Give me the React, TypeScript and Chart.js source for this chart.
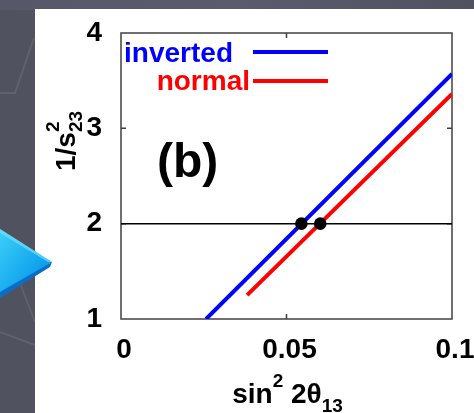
import { useEffect, useRef } from "react";
import { Chart, registerables } from "chart.js";

Chart.register(...registerables);

// Axis ticks
const xTickValues = [0, 0.05, 0.1];
const xTickLabels = ["0", "0.05", "0.1"];
const yTickValues = [1, 2, 3, 4];
const yTickLabels = ["1", "2", "3", "4"];

// Series: straight lines given by their end points
const seriesNames = ["inverted", "normal"];
const invertedX = [0.0257, 0.1];
const invertedY = [1, 3.57];
const normalX = [0.0381, 0.1];
const normalY = [1.25, 3.36];

// Crossing points with the reference level
const referenceLevel = 2;
const crossingX = [0.0545, 0.0602];
const crossingY = [2, 2];

const panelTag = "(b)";

const FONT = "'Liberation Sans', Arial, Helvetica, sans-serif";

type Part = { t: string; size: number; dy: number; stackWithPrev?: boolean };

function drawRich(ctx: CanvasRenderingContext2D, parts: Part[], startX: number, baseY: number) {
  let x = startX;
  let prevStart = startX;
  let prevWidth = 0;
  for (const p of parts) {
    ctx.font = `bold ${p.size}px ${FONT}`;
    const w = ctx.measureText(p.t).width;
    if (p.stackWithPrev) {
      ctx.fillText(p.t, prevStart, baseY + p.dy);
      x = prevStart + Math.max(prevWidth, w);
    } else {
      ctx.fillText(p.t, x, baseY + p.dy);
      prevStart = x;
      prevWidth = w;
      x += w;
    }
  }
}

function richWidth(ctx: CanvasRenderingContext2D, parts: Part[]) {
  let total = 0;
  let prevWidth = 0;
  for (const p of parts) {
    ctx.font = `bold ${p.size}px ${FONT}`;
    const w = ctx.measureText(p.t).width;
    if (p.stackWithPrev) {
      total += Math.max(prevWidth, w) - prevWidth;
    } else {
      total += w;
      prevWidth = w;
    }
  }
  return total;
}

const framePlugin = {
  id: "frameAndTicks",
  beforeDatasetsDraw(chart: any) {
    const { ctx, chartArea: a, scales } = chart;
    ctx.save();
    ctx.strokeStyle = "#404040";
    ctx.lineWidth = 1.5;
    ctx.strokeRect(a.left, a.top, a.right - a.left, a.bottom - a.top);
    const tl = 5;
    ctx.beginPath();
    for (const v of xTickValues) {
      if (v <= scales.x.min || v >= scales.x.max) continue;
      const px = scales.x.getPixelForValue(v);
      ctx.moveTo(px, a.bottom);
      ctx.lineTo(px, a.bottom - tl);
      ctx.moveTo(px, a.top);
      ctx.lineTo(px, a.top + tl);
    }
    for (const v of yTickValues) {
      if (v <= scales.y.min || v >= scales.y.max) continue;
      const py = scales.y.getPixelForValue(v);
      ctx.moveTo(a.left, py);
      ctx.lineTo(a.left + tl, py);
      ctx.moveTo(a.right, py);
      ctx.lineTo(a.right - tl, py);
    }
    ctx.stroke();
    ctx.restore();
  },
};

const annotationPlugin = {
  id: "titlesAndKey",
  afterDraw(chart: any) {
    const { ctx, chartArea: a } = chart;
    ctx.save();
    ctx.fillStyle = "#000";
    ctx.textBaseline = "alphabetic";
    ctx.textAlign = "left";

    // x-axis title: sin^2 2θ_13
    const xParts: Part[] = [
      { t: "sin", size: 28, dy: 0 },
      { t: "2", size: 19, dy: -16 },
      { t: " 2θ", size: 28, dy: 0 },
      { t: "13", size: 19, dy: 9 },
    ];
    const xw = richWidth(ctx, xParts);
    const xc = (a.left + a.right) / 2 + 1;
    drawRich(ctx, xParts, xc - xw / 2, 403);

    // y-axis title: 1/s^2_23 (rotated)
    const yParts: Part[] = [
      { t: "1/s", size: 28, dy: 0 },
      { t: "2", size: 19, dy: -16 },
      { t: "23", size: 19, dy: 7, stackWithPrev: true },
    ];
    const yw = richWidth(ctx, yParts);
    ctx.save();
    ctx.translate(75, 141);
    ctx.rotate(-Math.PI / 2);
    drawRich(ctx, yParts, -yw / 2, 0);
    ctx.restore();

    // panel tag
    ctx.font = `bold 48px ${FONT}`;
    ctx.fillText(panelTag, 157, 177);

    // key
    const colors = ["#0000ff", "#ff0000"];
    const textRight = [233, 250];
    const textBase = [62, 90];
    const lineY = [52, 81];
    ctx.font = `bold 28px ${FONT}`;
    ctx.textAlign = "right";
    ctx.lineWidth = 4;
    for (let i = 0; i < seriesNames.length; i++) {
      ctx.fillStyle = colors[i];
      ctx.fillText(seriesNames[i], textRight[i], textBase[i]);
      ctx.strokeStyle = colors[i];
      ctx.beginPath();
      ctx.moveTo(253, lineY[i]);
      ctx.lineTo(328, lineY[i]);
      ctx.stroke();
    }
    ctx.restore();
  },
};

export default function App() {
  const canvasRef = useRef<HTMLCanvasElement | null>(null);

  useEffect(() => {
    const canvas = canvasRef.current;
    if (!canvas) return;
    const toPoints = (xs: number[], ys: number[]) => xs.map((x, i) => ({ x, y: ys[i] }));
    const [xMin, xMax] = [xTickValues[0], xTickValues[xTickValues.length - 1]];
    const [yMin, yMax] = [yTickValues[0], yTickValues[yTickValues.length - 1]];

    const chart = new Chart(canvas, {
      type: "scatter",
      data: {
        datasets: [
          {
            label: "crossings",
            data: toPoints(crossingX, crossingY),
            pointRadius: 6.3,
            pointBackgroundColor: "#000",
            pointBorderColor: "#000",
            pointBorderWidth: 0,
            showLine: false,
            order: 0,
          },
          {
            label: seriesNames[0],
            data: toPoints(invertedX, invertedY),
            showLine: true,
            borderColor: "#0000ff",
            borderWidth: 4,
            pointRadius: 0,
            order: 1,
          },
          {
            label: seriesNames[1],
            data: toPoints(normalX, normalY),
            showLine: true,
            borderColor: "#ff0000",
            borderWidth: 4,
            pointRadius: 0,
            order: 1,
          },
          {
            label: "level",
            data: [
              { x: xMin, y: referenceLevel },
              { x: xMax, y: referenceLevel },
            ],
            showLine: true,
            borderColor: "#000",
            borderWidth: 1.5,
            pointRadius: 0,
            order: 2,
          },
        ],
      },
      options: {
        animation: false,
        responsive: false,
        maintainAspectRatio: false,
        devicePixelRatio: 1,
        layout: { padding: { left: 0, right: 22, top: 33, bottom: 0 } },
        plugins: {
          legend: { display: false },
          tooltip: { enabled: false },
        },
        scales: {
          x: {
            type: "linear",
            min: xMin,
            max: xMax,
            afterBuildTicks: (scale: any) => {
              scale.ticks = xTickValues.map((value) => ({ value }));
            },
            afterFit: (scale: any) => {
              scale.height = 94;
              scale.paddingLeft = 0;
              scale.paddingRight = 0;
            },
            grid: { display: false, drawTicks: false },
            border: { display: false },
            ticks: {
              padding: 14,
              labelOffset: 3,
              color: "#000",
              maxRotation: 0,
              autoSkip: false,
              font: { family: FONT, size: 28, weight: "bold" },
              callback: (v: any) => {
                const i = xTickValues.findIndex((t) => Math.abs(t - v) < 1e-9);
                return i >= 0 ? xTickLabels[i] : "";
              },
            },
          },
          y: {
            type: "linear",
            min: yMin,
            max: yMax,
            afterBuildTicks: (scale: any) => {
              scale.ticks = yTickValues.map((value) => ({ value }));
            },
            afterFit: (scale: any) => {
              scale.width = 121;
              scale.paddingTop = 0;
              scale.paddingBottom = 0;
            },
            grid: { display: false, drawTicks: false },
            border: { display: false },
            ticks: {
              padding: 19,
              color: "#000",
              autoSkip: false,
              font: { family: FONT, size: 28, weight: "bold" },
              callback: (v: any) => {
                const i = yTickValues.findIndex((t) => Math.abs(t - v) < 1e-9);
                return i >= 0 ? yTickLabels[i] : "";
              },
            },
          },
        },
      },
      plugins: [framePlugin, annotationPlugin],
    } as any);

    return () => chart.destroy();
  }, []);

  return (
    <div
      style={{
        position: "fixed",
        left: 0,
        top: 0,
        width: 474,
        height: 413,
        overflow: "hidden",
        background: "#50525f",
      }}
    >
      <svg width={474} height={413} style={{ position: "absolute", left: 0, top: 0 }}>
        <defs>
          <linearGradient id="arrowFill" x1="0" y1="0" x2="1" y2="1">
            <stop offset="0" stopColor="#3fd0f7" />
            <stop offset="0.6" stopColor="#13a6ee" />
            <stop offset="1" stopColor="#0b86dc" />
          </linearGradient>
          <linearGradient id="bandFill" x1="0" y1="0" x2="1" y2="0">
            <stop offset="0" stopColor="#56586a" />
            <stop offset="0.5" stopColor="#5a5c6e" />
            <stop offset="1" stopColor="#505260" />
          </linearGradient>
        </defs>
        <rect x={0} y={0} width={474} height={10} fill="url(#bandFill)" />
        <g stroke="rgba(255,255,255,0.09)" strokeWidth={2} fill="none">
          <polyline points="0,93 15,93 34,38" />
          <line x1={20} y1={283} x2={35} y2={322} />
          <line x1={0} y1={332} x2={35} y2={345} />
        </g>
        <rect x={35} y={9} width={439} height={404} fill="#ffffff" />
        <polygon points="0,229 52,262 0,297" fill="url(#arrowFill)" />
        <polygon points="0,292 52,262 50,267 0,298" fill="#0a6fc4" />
        <polygon points="0,229 52,262 48,262 0,233" fill="#6fe0fb" opacity={0.7} />
      </svg>
      <canvas
        ref={canvasRef}
        width={474}
        height={413}
        style={{ position: "absolute", left: 0, top: 0, width: 474, height: 413 }}
      />
    </div>
  );
}
